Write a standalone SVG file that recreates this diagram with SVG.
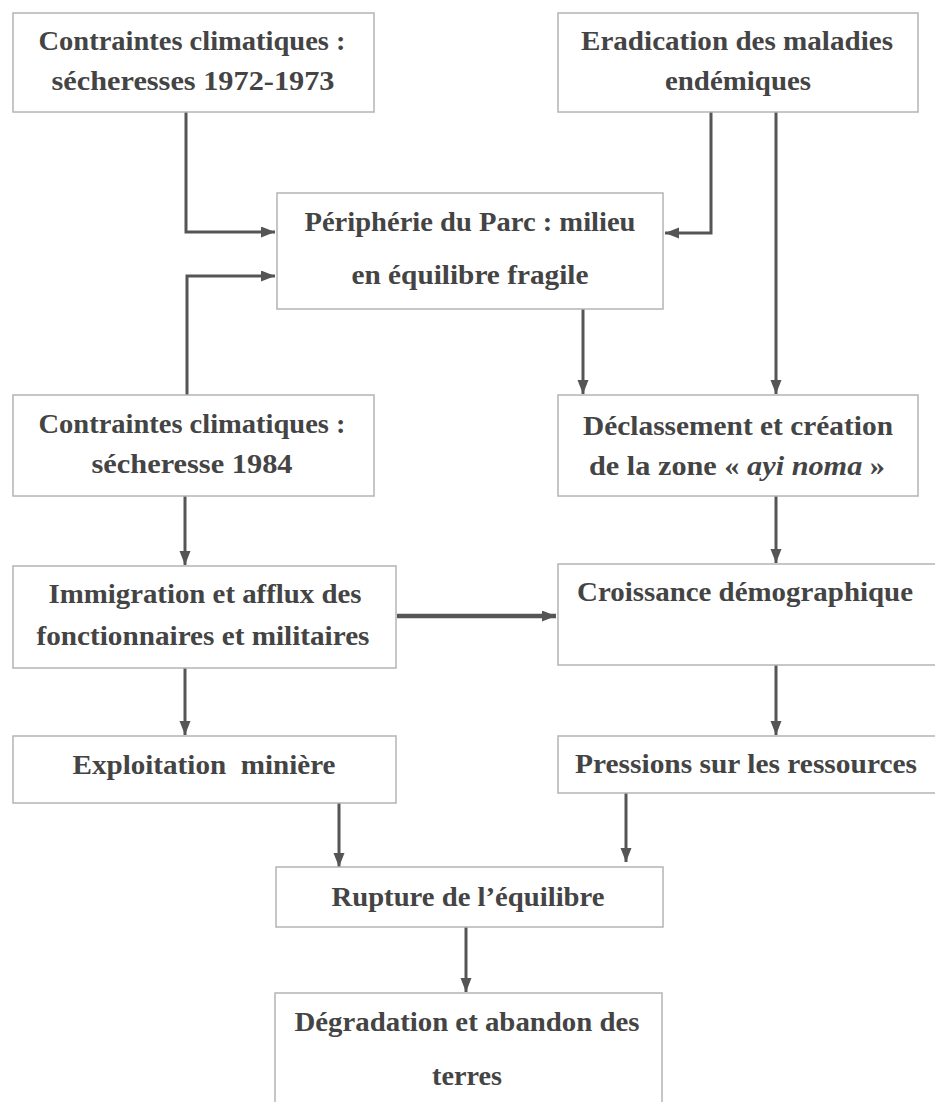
<svg xmlns="http://www.w3.org/2000/svg" width="935" height="1102" viewBox="0 0 935 1102">
<defs>
<style>
.box{fill:#fff;stroke:#b4b4b4;stroke-width:1.5}
.t{font-family:"Liberation Serif","Times New Roman",serif;font-weight:bold;font-size:28px;fill:#444;text-anchor:middle}
.c{fill:none;stroke:#555;stroke-width:3}
</style>
<marker id="ah" markerUnits="userSpaceOnUse" markerWidth="15" markerHeight="12" refX="14" refY="5.5" orient="auto">
<path d="M0,0 L14,5.5 L0,11 z" fill="#555"/>
</marker>
</defs>
<rect width="935" height="1102" fill="#fff"/>
<g id="connectors">
<path class="c" d="M186,112 V232 H275" marker-end="url(#ah)"/>
<path class="c" d="M187,395 V276 H275" marker-end="url(#ah)"/>
<path class="c" d="M711,112 V233 H665" marker-end="url(#ah)"/>
<path class="c" d="M776,112 V394" marker-end="url(#ah)"/>
<path class="c" d="M583,309 V394" marker-end="url(#ah)"/>
<path class="c" d="M185,496 V565" marker-end="url(#ah)"/>
<path class="c" d="M776,496 V563" marker-end="url(#ah)"/>
<path class="c" d="M397,616 H556" style="stroke-width:4.5" marker-end="url(#ah)"/>
<path class="c" d="M185,668 V735" marker-end="url(#ah)"/>
<path class="c" d="M776,665 V735" marker-end="url(#ah)"/>
<path class="c" d="M339,803 V867" marker-end="url(#ah)"/>
<path class="c" d="M626,793 V862" marker-end="url(#ah)"/>
<path class="c" d="M466,927 V992" marker-end="url(#ah)"/>
</g>
<g id="n1">
<rect class="box" x="13" y="13" width="361" height="99"/>
<text class="t" x="192" y="50" textLength="307" lengthAdjust="spacingAndGlyphs">Contraintes climatiques :</text>
<text class="t" x="193" y="90" textLength="283" lengthAdjust="spacingAndGlyphs">sécheresses 1972-1973</text>
</g>
<g id="n2">
<rect class="box" x="558" y="13" width="360" height="99"/>
<text class="t" x="737" y="50" textLength="312" lengthAdjust="spacingAndGlyphs">Eradication des maladies</text>
<text class="t" x="738" y="90" textLength="146" lengthAdjust="spacingAndGlyphs">endémiques</text>
</g>
<g id="n3">
<rect class="box" x="277" y="193" width="386" height="116"/>
<text class="t" x="470" y="231" textLength="331" lengthAdjust="spacingAndGlyphs">Périphérie du Parc : milieu</text>
<text class="t" x="470" y="284" textLength="237" lengthAdjust="spacingAndGlyphs">en équilibre fragile</text>
</g>
<g id="n4">
<rect class="box" x="13" y="395" width="361" height="101"/>
<text class="t" x="192" y="433" textLength="307" lengthAdjust="spacingAndGlyphs">Contraintes climatiques :</text>
<text class="t" x="192" y="473" textLength="201" lengthAdjust="spacingAndGlyphs">sécheresse 1984</text>
</g>
<g id="n5">
<rect class="box" x="558" y="395" width="360" height="101"/>
<text class="t" x="738" y="435" textLength="310" lengthAdjust="spacingAndGlyphs">Déclassement et création</text>
<text class="t" x="737" y="475" textLength="296" lengthAdjust="spacingAndGlyphs">de la zone « <tspan font-style="italic">ayi noma</tspan> »</text>
</g>
<g id="n6">
<rect class="box" x="13" y="566" width="383" height="102"/>
<text class="t" x="205" y="603" textLength="313" lengthAdjust="spacingAndGlyphs">Immigration et afflux des</text>
<text class="t" x="203" y="645" textLength="333" lengthAdjust="spacingAndGlyphs">fonctionnaires et militaires</text>
</g>
<g id="n7">
<rect class="box" x="558" y="564" width="380" height="101"/>
<text class="t" x="745" y="601" textLength="336" lengthAdjust="spacingAndGlyphs">Croissance démographique</text>
</g>
<g id="n8">
<rect class="box" x="13" y="736" width="383" height="67"/>
<text class="t" x="204" y="774" textLength="263" lengthAdjust="spacingAndGlyphs" xml:space="preserve">Exploitation  minière</text>
</g>
<g id="n9">
<rect class="box" x="558" y="736" width="380" height="57"/>
<text class="t" x="746" y="773" textLength="342" lengthAdjust="spacingAndGlyphs">Pressions sur les ressources</text>
</g>
<g id="n10">
<rect class="box" x="276" y="867" width="387" height="60"/>
<text class="t" x="468" y="906" textLength="273" lengthAdjust="spacingAndGlyphs">Rupture de l’équilibre</text>
</g>
<g id="n11">
<rect class="box" x="275" y="993" width="387" height="120"/>
<text class="t" x="467" y="1031" textLength="345" lengthAdjust="spacingAndGlyphs">Dégradation et abandon des</text>
<text class="t" x="467" y="1085" textLength="70" lengthAdjust="spacingAndGlyphs">terres</text>
</g>
</svg>
